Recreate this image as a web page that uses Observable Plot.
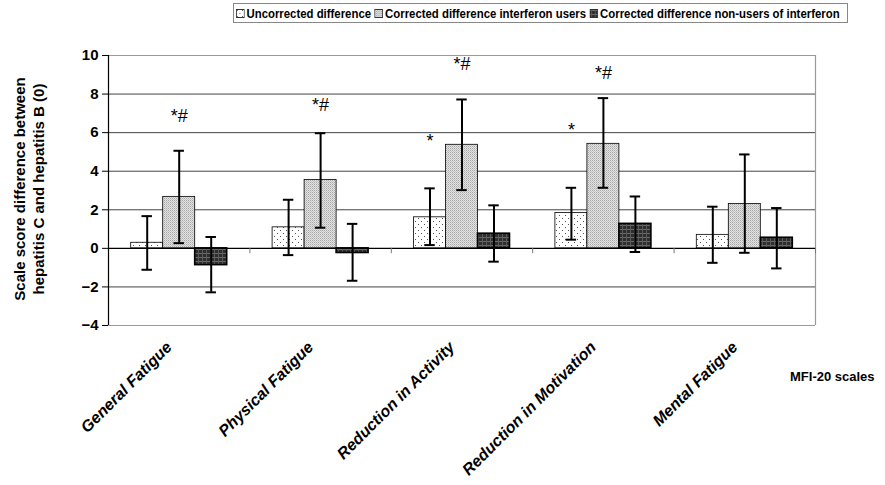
<!DOCTYPE html>
<html><head><meta charset="utf-8">
<script src="https://cdn.jsdelivr.net/npm/d3@7"></script>
<script src="https://cdn.jsdelivr.net/npm/@observablehq/plot@0.6"></script>
<style>
body{margin:0;background:#fff;font-family:"Liberation Sans",Arial,sans-serif;}
#wrap{position:relative;width:885px;height:485px;overflow:hidden;}
#top{position:relative;height:28px;}
#legend{position:absolute;left:233px;top:3px;width:615px;height:20px;box-sizing:border-box;border:1px solid #888;overflow:hidden;}
#legendInner{position:absolute;left:2px;top:0;height:18px;display:flex;align-items:center;white-space:nowrap;font-weight:bold;font-size:13px;transform:scaleX(0.875);transform-origin:left center;}
#legendInner .item{display:flex;align-items:center;margin-right:4px;}
#legendInner svg{margin-right:2px;}
#ytitle{position:absolute;left:29px;top:189px;transform:translate(-50%,-50%) rotate(-90deg);text-align:center;line-height:19px;font-weight:bold;font-size:15px;white-space:nowrap;}
#xtitle{position:absolute;left:790px;top:369px;font-weight:bold;font-size:13px;white-space:nowrap;}
</style>
</head><body>
<svg width="0" height="0" style="position:absolute">
  <defs>
    <pattern id="pDots" width="6" height="6" patternUnits="userSpaceOnUse">
      <rect width="6" height="6" fill="#fff"/>
      <rect x="1" y="1" width="1" height="1" fill="#555"/>
      <rect x="4" y="4" width="1" height="1" fill="#555"/>
    </pattern>
    <pattern id="pLight" width="2" height="2" patternUnits="userSpaceOnUse">
      <rect width="2" height="2" fill="#e2e2e2"/>
      <rect x="0" y="0" width="1" height="1" fill="#a8a8a8"/>
      <rect x="1" y="1" width="1" height="1" fill="#c4c4c4"/>
    </pattern>
    <pattern id="pDark" width="4" height="4" patternUnits="userSpaceOnUse">
      <rect width="4" height="4" fill="#2e2e2e"/>
      <rect x="0" y="1" width="4" height="1" fill="#6a6a6a"/>
      <rect x="2" y="0" width="1" height="4" fill="#5a5a5a"/>
    </pattern>
  </defs>
</svg>
<div id="wrap">
  <div id="top"><div id="legend"><div id="legendInner"></div></div></div>
  <div id="chart"></div>
  <div id="ytitle">Scale score difference between<br>hepatitis C and hepatitis B (0)</div>
  <div id="xtitle">MFI-20 scales</div>
</div>
<script>
const categories = ["General Fatigue","Physical Fatigue","Reduction in Activity","Reduction in Motivation","Mental Fatigue"];
const series = ["Uncorrected difference","Corrected difference interferon users","Corrected difference non-users of interferon"];
const seriesFill = ["url(#pDots)","url(#pLight)","url(#pDark)"];

const uncorrected     = [0.29, 1.09, 1.61, 1.83, 0.70];
const uncorrectedLow  = [-1.11, -0.35, 0.17, 0.45, -0.75];
const uncorrectedHigh = [1.67, 2.52, 3.11, 3.14, 2.16];

const ifUsers     = [2.67, 3.54, 5.37, 5.42, 2.30];
const ifUsersLow  = [0.27, 1.07, 3.02, 3.14, -0.23];
const ifUsersHigh = [5.06, 5.97, 7.72, 7.79, 4.87];

const nonUsers     = [-0.87, -0.24, 0.76, 1.27, 0.55];
const nonUsersLow  = [-2.28, -1.68, -0.69, -0.19, -1.04];
const nonUsersHigh = [0.59, 1.27, 2.23, 2.69, 2.09];

// significance marks: category index, series index, label, y position
const markCat    = [0, 1, 2, 2, 3, 3];
const markSeries = [1, 1, 0, 1, 0, 1];
const markLabel  = ["*#", "*#", "*", "*#", "*", "*#"];
const markY      = [6.85, 7.4, 5.55, 9.55, 6.1, 9.1];

const yTicks = [-4, -2, 0, 2, 4, 6, 8, 10];

// legend
const legend = d3.select("#legendInner");
series.forEach((s, i) => {
  const it = legend.append("div").attr("class", "item");
  const sw = it.append("svg").attr("width", 10).attr("height", 9);
  sw.append("rect").attr("x", 0.5).attr("y", 0.5).attr("width", 9).attr("height", 8)
    .attr("fill", seriesFill[i]).attr("stroke", "#333");
  it.append("span").text(s);
});

// table built from the arrays
const values = [uncorrected, ifUsers, nonUsers];
const lows = [uncorrectedLow, ifUsersLow, nonUsersLow];
const highs = [uncorrectedHigh, ifUsersHigh, nonUsersHigh];
const barShare = 0.2263; // fraction of a category band taken by one bar
const rows = [];
categories.forEach((c, ci) => {
  series.forEach((s, si) => {
    const x1 = ci + 0.5 + (si - 1.5) * barShare;
    rows.push({cat: c, ci, si, x1, x2: x1 + barShare, xm: x1 + barShare / 2,
      v: values[si][ci], lo: lows[si][ci], hi: highs[si][ci], fill: seriesFill[si]});
  });
});
const marks = markCat.map((ci, k) => {
  const si = markSeries[k];
  return {xm: ci + 0.5 + (si - 1) * barShare, y: markY[k], label: markLabel[k]};
});
const boundaries = d3.range(1, categories.length + 1);
const centers = categories.map((c, i) => i + 0.5);

const chart = Plot.plot({
  width: 885,
  height: 457,
  marginLeft: 108,
  marginRight: 70,
  marginTop: 27,
  marginBottom: 160,
  style: {fontFamily: "Liberation Sans, Arial, sans-serif", background: "#fff"},
  x: {domain: [0, categories.length], axis: null},
  y: {domain: [-4, 10], axis: null},
  color: {type: "identity"},
  marks: [
    Plot.ruleY([10, -4], {stroke: "#9a9a9a", strokeWidth: 1.2}),
    Plot.ruleY([8, 6, 4, 2, -2], {stroke: "#444", strokeWidth: 1}),
    Plot.ruleX([categories.length], {stroke: "#9a9a9a", strokeWidth: 1.2}),
    Plot.rectY(rows, {x1: "x1", x2: "x2", y1: 0, y2: "v", fill: "fill", stroke: "#000",
      strokeWidth: d => d.si === 2 ? 1.6 : 0.8}),
    Plot.ruleY([0], {stroke: "#000", strokeWidth: 1.2}),
    Plot.ruleX(boundaries, {y1: 0, y2: -0.28, stroke: "#777", strokeWidth: 1}),
    Plot.ruleX(rows, {x: "xm", y1: "lo", y2: "hi", stroke: "#000", strokeWidth: 2}),
    Plot.ruleY(rows, {y: "hi", x1: d => d.xm - 0.037, x2: d => d.xm + 0.037, stroke: "#000", strokeWidth: 2}),
    Plot.ruleY(rows, {y: "lo", x1: d => d.xm - 0.037, x2: d => d.xm + 0.037, stroke: "#000", strokeWidth: 2}),
    Plot.text(marks, {x: "xm", y: "y", text: "label", fontSize: 18, fill: "#000", lineAnchor: "middle"}),
    Plot.ruleX([0], {stroke: "#000", strokeWidth: 1.2}),
    Plot.axisY({ticks: yTicks, tickSize: 6, tickPadding: 4, fontSize: 15, fontWeight: "bold", label: null, stroke: "#000"}),
    Plot.axisX({ticks: centers, tickFormat: d => categories[Math.floor(d)], tickSize: 0, tickRotate: -45,
      tickPadding: 19, dx: -10, fontSize: 16, fontWeight: "bold", fontStyle: "italic", label: null})
  ]
});
document.getElementById("chart").appendChild(chart);
</script>
</body></html>
